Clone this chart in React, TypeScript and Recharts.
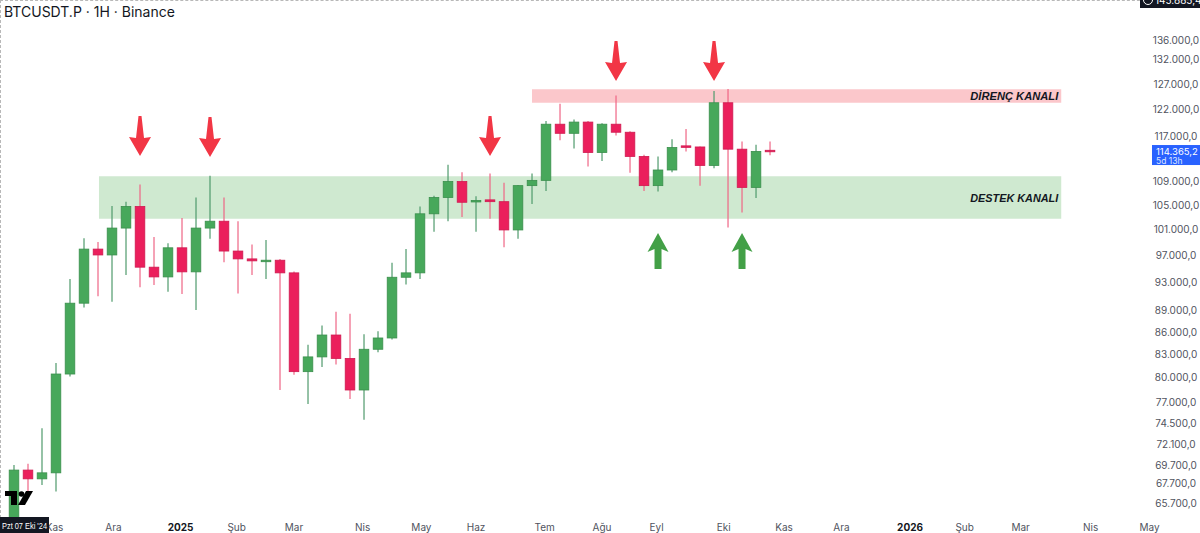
import React from 'react';
import { ComposedChart, Bar, XAxis, YAxis, ReferenceArea, ReferenceDot, ReferenceLine } from 'recharts';

// Weekly BTCUSDT.P candles, first bar = week of 14 Oct 2024
const opens = [62850, 69200, 68250, 68900, 80500, 90000, 98000, 97100, 101300, 104800, 95250, 93800, 98200, 94550, 101300, 102400, 97700, 96500, 96150, 96300, 94400, 80800, 82700, 85600, 82500, 78500, 83700, 85200, 93750, 94400, 103600, 106300, 109000, 105600, 105900, 105600, 101000, 108300, 109200, 119300, 117600, 119700, 114100, 119300, 117800, 113400, 108300, 111000, 115300, 115100, 111800, 123400, 114700, 108000, 114500];
const highs = [69760, 69900, 73900, 81900, 93500, 99700, 99100, 104900, 105600, 108500, 99900, 98900, 102900, 106300, 110000, 106300, 102400, 98700, 99400, 96500, 94600, 84300, 86900, 88800, 88500, 85700, 86100, 95900, 98000, 104800, 106600, 111900, 110600, 106500, 110400, 108800, 108400, 110400, 119900, 123200, 120200, 119900, 119500, 124800, 118000, 113700, 113400, 116500, 118400, 115200, 125700, 126100, 116100, 115500, 116100];
const lows = [62000, 66800, 67600, 66900, 80200, 89400, 91000, 90200, 94100, 92300, 92600, 91650, 91300, 89050, 99600, 96000, 91400, 94100, 93500, 78500, 80400, 76800, 81400, 81700, 77400, 74900, 83300, 85000, 92700, 93500, 100700, 102400, 103100, 100700, 102800, 98300, 99600, 105200, 107400, 116300, 114800, 111600, 112600, 117200, 110500, 107400, 107300, 110600, 114300, 108300, 111300, 101400, 103800, 106200, 113600];
const closes = [69200, 68250, 68900, 80500, 90000, 98000, 97100, 101300, 104800, 95250, 93800, 98200, 94550, 101300, 102400, 97700, 96500, 96200, 96300, 94400, 80800, 82700, 85600, 82500, 78500, 83700, 85200, 93750, 94400, 103600, 106300, 109000, 105500, 105800, 105600, 101000, 108300, 109200, 119300, 117600, 119700, 114100, 119300, 117800, 113400, 108300, 111000, 115000, 115100, 111800, 123400, 114700, 108000, 114300, 114365.2];

const lastPrice = 114365.2;

const priceTicks = [65700, 67700, 69700, 72100, 74500, 77000, 80000, 83000, 86000, 89000, 93000, 97000, 101000, 105000, 109000, 117000, 122000, 127000, 132000, 136000];

const timeLabels = ['Kas', 'Ara', '2025', 'Şub', 'Mar', 'Nis', 'May', 'Haz', 'Tem', 'Ağu', 'Eyl', 'Eki', 'Kas', 'Ara', '2026', 'Şub', 'Mar', 'Nis', 'May'];
const timeTicks = [2.9, 7.1, 11.9, 15.9, 20, 24.9, 29.1, 33, 37.9, 42, 45.9, 50.7, 55, 59.1, 64, 67.9, 71.9, 76.9, 81.1];

// channels: [fromWeek, toWeek, low, high]
const supportZone = [6.07, 74.8, 102800, 109900];
const resistanceZone = [37, 74.8, 123400, 126050];

// arrow markers: week index and price at the tip
const downArrows = [
  { i: 9, p: 113480 },
  { i: 14, p: 113300 },
  { i: 34, p: 113480 },
  { i: 43, p: 127700 },
  { i: 50, p: 127700 },
];
const upArrows = [
  { i: 46, p: 100520 },
  { i: 52, p: 100520 },
];

const UP = '#47a85b';
const UP_EDGE = '#3a8f4c';
const DOWN = '#eb1f5c';
const DOWN_EDGE = '#cf1a50';

const candles = opens.map((o, i) => ({
  i,
  o,
  h: highs[i],
  l: lows[i],
  c: closes[i],
  range: [lows[i], highs[i]],
}));

const fmtPrice = (v: number) => {
  const [int, dec] = v.toFixed(1).split('.');
  return int.replace(/\B(?=(\d{3})+(?!\d))/g, '.') + ',' + dec;
};

const Candle = (props: any) => {
  const { x, y, width, height, payload } = props;
  if (x == null || y == null) return null;
  const top = Math.min(y, y + height);
  const span = Math.abs(height);
  const { o, c, h, l } = payload;
  const lh = Math.log(h);
  const ll = Math.log(l);
  // position inside the high-low bar on the same log scale
  const py = (v: number) => top + (span * (lh - Math.log(v))) / (lh - ll);
  const up = c >= o;
  const cx = x + width / 2;
  const bTop = py(Math.max(o, c));
  const bBot = py(Math.min(o, c));
  const bh = Math.max(bBot - bTop, 1.5);
  return (
    <g>
      <line x1={cx} x2={cx} y1={top} y2={top + span} stroke={up ? '#4f9a6c' : '#ef6585'} strokeWidth={1.2} />
      <rect x={cx - 4.8} y={bTop} width={9.6} height={bh} fill={up ? UP : DOWN} stroke={up ? UP_EDGE : DOWN_EDGE} strokeWidth={0.8} />
    </g>
  );
};

const DownArrow = (props: any) => {
  const { cx, cy } = props;
  const d = `M${cx - 1.5},${cy - 40} L${cx + 1.5},${cy - 40} L${cx + 4},${cy - 18} L${cx + 11},${cy - 19} L${cx},${cy} L${cx - 11},${cy - 19} L${cx - 4},${cy - 18} Z`;
  return <path d={d} fill="#f23645" />;
};

const UpArrow = (props: any) => {
  const { cx, cy } = props;
  const d = `M${cx},${cy} L${cx + 10.5},${cy + 19} L${cx + 3.5},${cy + 16} L${cx + 3.5},${cy + 36} L${cx - 3.5},${cy + 36} L${cx - 3.5},${cy + 16} L${cx - 10.5},${cy + 19} Z`;
  return <path d={d} fill="#43a047" />;
};

const PriceTick = (props: any) => {
  const { y, payload } = props;
  return (
    <text x={1176} y={y} dy={3.5} textAnchor="middle" fontSize={10} fill="#50535e" fontFamily="Inter, 'Liberation Sans', sans-serif">
      {fmtPrice(payload.value)}
    </text>
  );
};

const TimeTick = (props: any) => {
  const { x, index } = props;
  const label = timeLabels[index] ?? '';
  const isYear = /^\d+$/.test(label);
  return (
    <text x={x} y={531} textAnchor="middle" fontSize={10} fontWeight={isYear ? 700 : 400} fill={isYear ? '#131722' : '#50535e'} fontFamily="Inter, 'Liberation Sans', sans-serif">
      {label}
    </text>
  );
};

const ZoneLabel = ({ viewBox, text }: any) => {
  if (!viewBox) return null;
  const { x, y, width, height } = viewBox;
  return (
    <text x={x + width - 3} y={y + height / 2 + 4} textAnchor="end" fontSize={11} fontWeight={700} fontStyle="italic" fill="#131722" textLength={88} lengthAdjust="spacingAndGlyphs" fontFamily="'Liberation Sans', Arial, sans-serif">
      {text}
    </text>
  );
};

const PriceTag = ({ viewBox }: any) => {
  if (!viewBox) return null;
  const y = viewBox.y;
  return (
    <g fontFamily="Inter, 'Liberation Sans', sans-serif">
      <rect x={1152} y={y - 6} width={48} height={20} fill="#2962ff" />
      <text x={1156} y={y + 3.5} fontSize={9.5} fill="#ffffff">{fmtPrice(lastPrice)}</text>
      <text x={1156} y={y + 12.5} fontSize={8.5} fill="#dbe4ff">5d 13h</text>
    </g>
  );
};

export default function App() {
  return (
    <div style={{ position: 'relative', width: 1200, height: 533, overflow: 'hidden', background: '#fff' }}>
      <style>{'body{margin:0}'}</style>
      <ComposedChart width={1200} height={533} data={candles} margin={{ top: 0, right: 0, left: 0, bottom: 0 }}>
        <XAxis
          dataKey="i"
          type="number"
          domain={[-1, 81.14]}
          ticks={timeTicks}
          interval={0}
          height={15}
          axisLine={false}
          tickLine={false}
          tick={<TimeTick />}
          allowDataOverflow
        />
        <YAxis
          orientation="right"
          scale="log"
          domain={[64170, 145070]}
          ticks={priceTicks}
          interval={0}
          width={50}
          axisLine={false}
          tickLine={false}
          tick={<PriceTick />}
          allowDataOverflow
        />
        <ReferenceArea
          x1={supportZone[0]}
          x2={supportZone[1]}
          y1={supportZone[2]}
          y2={supportZone[3]}
          fill="#cfe9d0"
          fillOpacity={1}
          stroke="none"
          label={<ZoneLabel text="DESTEK KANALI" />}
        />
        <ReferenceArea
          x1={resistanceZone[0]}
          x2={resistanceZone[1]}
          y1={resistanceZone[2]}
          y2={resistanceZone[3]}
          fill="#fbc7cb"
          fillOpacity={1}
          stroke="none"
          label={<ZoneLabel text="DİRENÇ KANALI" />}
        />
        <Bar dataKey="range" barSize={10} shape={<Candle />} isAnimationActive={false} />
        <ReferenceLine y={lastPrice} stroke="none" strokeOpacity={0} label={<PriceTag />} />
        {downArrows.map((a, k) => (
          <ReferenceDot key={'d' + k} x={a.i} y={a.p} r={0} ifOverflow="visible" shape={<DownArrow />} />
        ))}
        {upArrows.map((a, k) => (
          <ReferenceDot key={'u' + k} x={a.i} y={a.p} r={0} ifOverflow="visible" shape={<UpArrow />} />
        ))}
      </ComposedChart>

      {/* dashed pane frame */}
      <div style={{ position: 'absolute', left: 0, top: 0, width: 1200, height: 533, borderLeft: '1px dashed #b8b8b8', borderTop: '1px dashed #b8b8b8', boxSizing: 'border-box', pointerEvents: 'none' }} />

      <div style={{ position: 'absolute', left: 4, top: 3, fontSize: 14, color: '#131722', fontFamily: "Inter, 'Liberation Sans', sans-serif", whiteSpace: 'nowrap' }}>
        BTCUSDT.P · 1H · Binance
      </div>

      {/* last high marker, clipped at the top edge */}
      <div style={{ position: 'absolute', left: 1140, top: -8, width: 60, height: 16, background: '#131722', color: '#fff', fontSize: 10, fontFamily: "Inter, 'Liberation Sans', sans-serif", lineHeight: '16px', paddingLeft: 15, boxSizing: 'border-box' }}>
        145.885,4
        <div style={{ position: 'absolute', left: 3, top: 3, width: 8, height: 8, borderRadius: 5, border: '1.5px solid #fff' }} />
      </div>

      {/* logo */}
      <svg style={{ position: 'absolute', left: 0, top: 485 }} width={40} height={25}>
        <rect x={5} y={6} width={12} height={5} fill="#000" />
        <rect x={11} y={6} width={6} height={14} fill="#000" />
        <circle cx={21.5} cy={9} r={2.8} fill="#000" />
        <polygon points="26,6 33,6 25,20 18,20" fill="#000" />
      </svg>

      {/* crosshair date box */}
      <svg style={{ position: 'absolute', left: 0, top: 517 }} width={50} height={16}>
        <rect x={0} y={0} width={49} height={16} fill="#131722" />
        <text x={2} y={11.5} fontSize={9.5} fill="#fff" textLength={45} lengthAdjust="spacingAndGlyphs" fontFamily="'Liberation Sans', Arial, sans-serif">
          Pzt 07 Eki '24
        </text>
      </svg>
    </div>
  );
}
